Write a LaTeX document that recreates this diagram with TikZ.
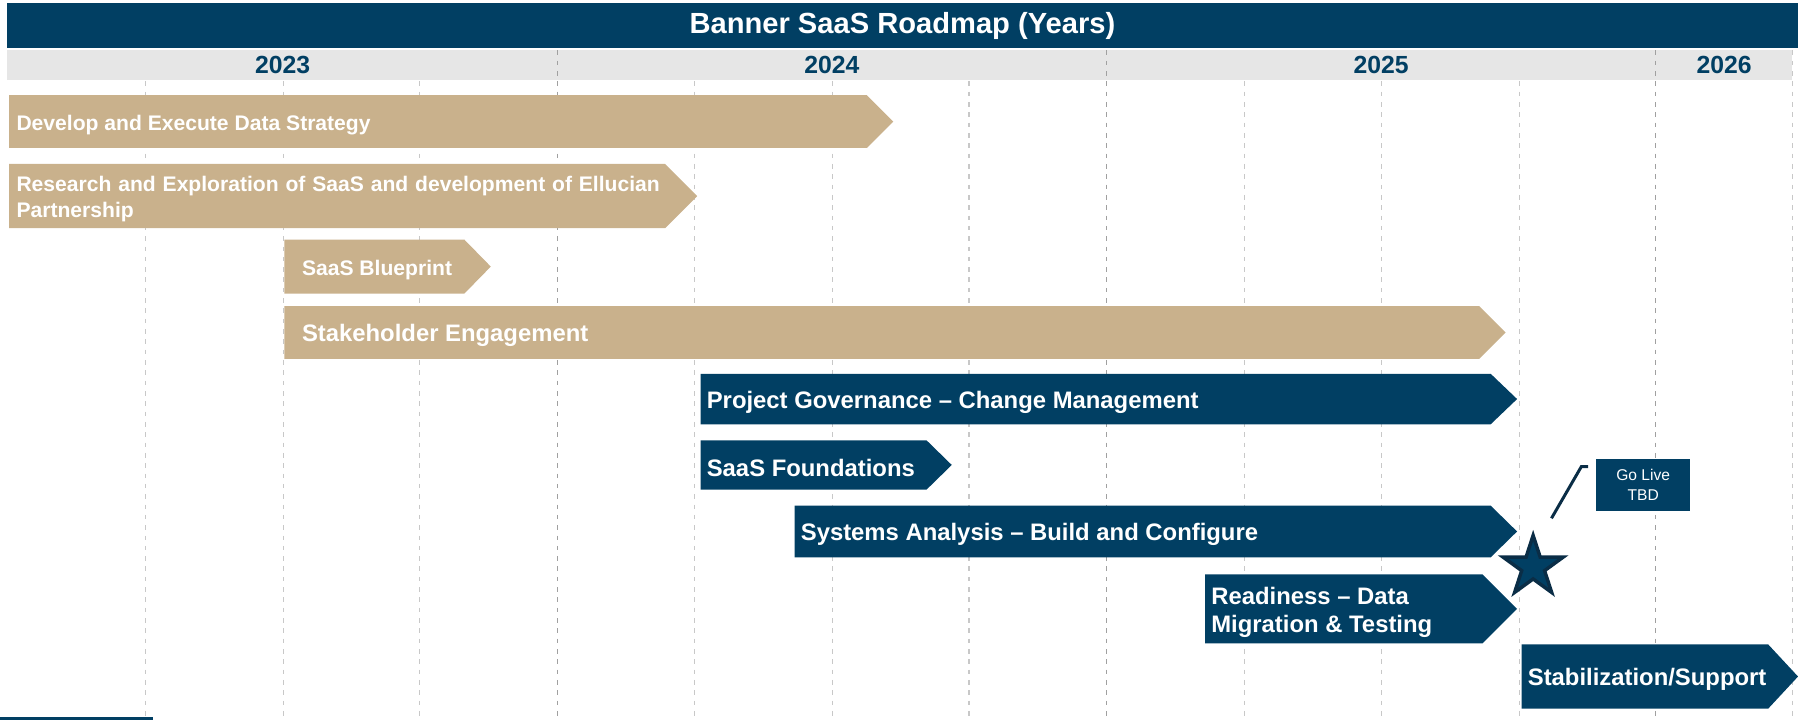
\documentclass[tikz,border=0pt]{standalone}
\usepackage{fontspec}
\setmainfont{Liberation Sans}
\usetikzlibrary{shapes.geometric}
\definecolor{roadnavy}{RGB}{1,63,99}
\definecolor{roadnavydark}{RGB}{10,45,70}
\definecolor{roadtan}{RGB}{201,177,140}
\definecolor{roadhead}{RGB}{230,230,230}
\definecolor{gridq}{RGB}{200,200,200}
\definecolor{gridy}{RGB}{160,160,160}

\begin{document}
\begin{tikzpicture}[x=0.5pt,y=0.5pt,yscale=-1,xscale=1,
    quarter/.style={color=gridq, line width=0.5pt, dash pattern=on 2pt off 2.5pt},
    yearline/.style={color=gridy, line width=0.5pt, dash pattern=on 2pt off 2.5pt},
    bartext/.style={anchor=west, inner sep=0pt, yshift=-1.4pt, text=white, font=\bfseries\fontsize{10.4}{12.3}\selectfont},
    smalltext/.style={bartext, font=\bfseries\fontsize{9.2}{11.5}\selectfont},
    yeartext/.style={inner sep=0pt, text=roadnavy, font=\bfseries\fontsize{10.8}{13}\selectfont}]
        \useasboundingbox (0,0) rectangle (1568,630);

        %Shape: Rectangle [title bar]
        \fill [roadnavy] (6,3) rectangle (1568,42);
        %Shape: Rectangle [year bar]
        \fill [roadhead] (6,44) rectangle (1563,70);

        %Straight Lines [year boundaries]
        \draw [yearline] (486,44) -- (486,628);
        \draw [yearline] (965,44) -- (965,628);
        \draw [yearline] (1444,44) -- (1444,628);
        \draw [quarter] (1563,44) -- (1563,628);
        %Straight Lines [quarters]
        \draw [quarter] (127,71) -- (127,628);
        \draw [quarter] (247,71) -- (247,628);
        \draw [quarter] (366,71) -- (366,628);
        \draw [quarter] (606,71) -- (606,628);
        \draw [quarter] (726,71) -- (726,628);
        \draw [quarter] (845,71) -- (845,628);
        \draw [quarter] (1085,71) -- (1085,628);
        \draw [quarter] (1205,71) -- (1205,628);
        \draw [quarter] (1325,71) -- (1325,628);

        %Shape: Polygon [tan bars]
        \fill [roadtan] (8,83) -- (756,83) -- (779,106) -- (756,129) -- (8,129) -- cycle ;
        \fill [roadtan] (8,143) -- (580,143) -- (608,171) -- (580,199) -- (8,199) -- cycle ;
        \fill [roadtan] (248,209) -- (405,209) -- (428,232.5) -- (405,256) -- (248,256) -- cycle ;
        \fill [roadtan] (248,267) -- (1290,267) -- (1313,290) -- (1290,313) -- (248,313) -- cycle ;
        %Shape: Polygon [navy bars]
        \fill [roadnavy] (611,326) -- (1300,326) -- (1323,348) -- (1300,370) -- (611,370) -- cycle ;
        \fill [roadnavy] (611,384) -- (808,384) -- (830,405.5) -- (808,427) -- (611,427) -- cycle ;
        \fill [roadnavy] (693,441) -- (1300,441) -- (1323,463.5) -- (1300,486) -- (693,486) -- cycle ;
        \fill [roadnavy] (1051,501) -- (1293,501) -- (1323,531) -- (1293,561) -- (1051,561) -- cycle ;
        \fill [roadnavy] (1327,562) -- (1542,562) -- (1568,590) -- (1542,618) -- (1327,618) -- cycle ;

        %Straight Lines [bottom rule]
        \draw [roadnavy, line width=1.3pt] (0,627) -- (133,627) ;

        % Text Node
        \node (title) [inner sep=0pt, text=white, font=\bfseries\fontsize{12.7}{15}\selectfont] at (787,23) {Banner SaaS Roadmap (Years)};
        % Text Node
        \node (y2023) [yeartext] at (246.5,57) {2023};
        \node (y2024) [yeartext] at (725.5,57) {2024};
        \node (y2025) [yeartext] at (1204.5,57) {2025};
        \node (y2026) [yeartext] at (1503.5,57) {2026};
        % Text Node
        \node (datastrategy) [smalltext] at (14,106) {Develop and Execute Data Strategy};
        \node (research) [smalltext, text width=280.5pt, align=justify] at (14,171) {Research and Exploration of SaaS and development of Ellucian Partnership};
        \node (blueprint) [smalltext] at (263,232.5) {SaaS Blueprint};
        \node (stakeholder) [bartext] at (263,290) {Stakeholder Engagement};
        \node (governance) [bartext] at (616,348) {Project Governance – Change Management};
        \node (foundations) [bartext] at (616,405.5) {SaaS Foundations};
        \node (systems) [bartext] at (698,463.5) {Systems Analysis – Build and Configure};
        \node (readiness) [bartext, align=left] at (1056,531) {Readiness – Data\\Migration \& Testing};
        \node (stabilization) [bartext] at (1332,590) {Stabilization/Support};

        %Shape: Star
        \node (golivestar) [star, star points=5, star point ratio=2.618, minimum size=27.5pt, inner sep=0pt, fill=roadnavy, draw=roadnavydark, line width=1.5pt] at (1337,494.4) {};
        %Straight Lines [callout]
        \coordinate (calloutA) at (1353,452);
        \coordinate (calloutB) at (1379,407);
        \draw [roadnavydark, line width=1.3pt] (calloutA) -- (calloutB) -- ++(6,0) ;
        % Text Node
        \node (golive) [fill=roadnavy, minimum width=41pt, minimum height=23pt, inner sep=0pt, text=white, align=center, font=\fontsize{6.8}{8.5}\selectfont] at (1433,423) {Go Live\\TBD};

\end{tikzpicture}
\end{document}
